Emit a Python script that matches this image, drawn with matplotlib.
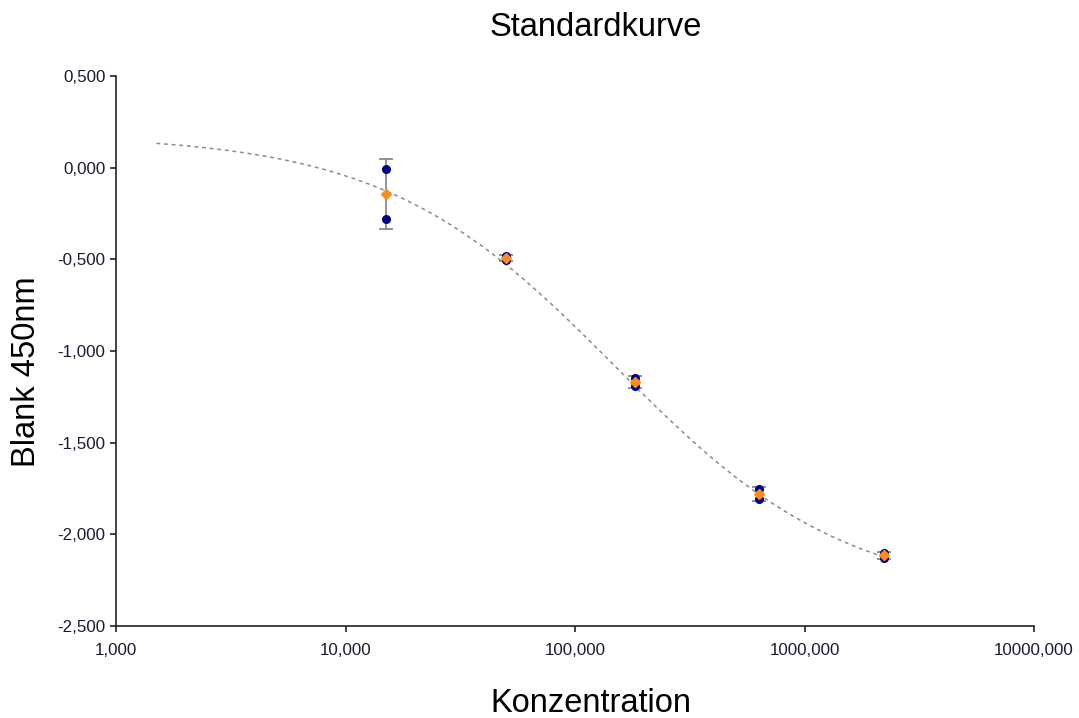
import numpy as np
import matplotlib
matplotlib.use("Agg")
import matplotlib.pyplot as plt
from matplotlib.ticker import FixedLocator, FixedFormatter, NullLocator

plt.rcParams['font.family'] = ['Liberation Sans', 'DejaVu Sans']

# Data
conc = [15, 50, 182, 635, 2220]
rep1 = [-0.007, -0.482, -1.147, -1.752, -2.103]
rep2 = [-0.280, -0.506, -1.192, -1.808, -2.127]

# 4PL fit parameters (top, bottom, EC50, hill)
fit_top = 0.18
fit_bottom = -2.35
fit_ec50 = 150.0
fit_hill = 0.86
fit_range = [1.5, 2220]

xticks = [1, 10, 100, 1000, 10000]
xticklabels = ["1,000", "10,000", "100,000", "1000,000", "10000,000"]
yticks = [0.5, 0.0, -0.5, -1.0, -1.5, -2.0, -2.5]
yticklabels = ["0,500", "0,000", "-0,500", "-1,000", "-1,500", "-2,000", "-2,500"]

W, H = 1079, 718
fig = plt.figure(figsize=(W / 100, H / 100), dpi=100)
ax = fig.add_axes([116 / W, 1 - 626 / H, (1034 - 116) / W, (626 - 76) / H])

xs = np.logspace(np.log10(fit_range[0]), np.log10(fit_range[1]), 300)
ys = fit_bottom + (fit_top - fit_bottom) / (1 + (xs / fit_ec50) ** fit_hill)
ax.plot(xs, ys, linestyle=(0, (2.5, 2.5)), color='#8c8c8c', linewidth=1.1, zorder=1)

r1 = np.array(rep1)
r2 = np.array(rep2)
mean = (r1 + r2) / 2
sd = np.std(np.vstack([r1, r2]), axis=0, ddof=1)

ax.errorbar(conc, mean, yerr=sd, fmt='none', ecolor='#808080', elinewidth=1.2,
            capsize=4.8, capthick=1.2, zorder=2)
ax.plot(conc, rep1, 'o', color='#00008B', markersize=5.5, zorder=3, linestyle='none')
ax.plot(conc, rep2, 'o', color='#00008B', markersize=5.5, zorder=3, linestyle='none')
ax.plot(conc, mean, 'D', color='#FF8C1A', markersize=5, zorder=4, linestyle='none')

ax.set_xscale('log')
ax.set_xlim(1, 10000)
ax.set_ylim(-2.5, 0.5)
ax.xaxis.set_major_locator(FixedLocator(xticks))
ax.xaxis.set_major_formatter(FixedFormatter(xticklabels))
ax.xaxis.set_minor_locator(NullLocator())
ax.yaxis.set_major_locator(FixedLocator(yticks))
ax.yaxis.set_major_formatter(FixedFormatter(yticklabels))

for s in ['top', 'right']:
    ax.spines[s].set_visible(False)
for s in ['left', 'bottom']:
    ax.spines[s].set_linewidth(1.2)
    ax.spines[s].set_color('#222222')
ax.tick_params(axis='both', direction='out', length=4.5, width=1.2, color='#222222',
               labelsize=12.2, labelcolor='#1a1a33')
ax.tick_params(axis='x', pad=8)
ax.tick_params(axis='y', pad=3)

fig.text(596 / W, 1 - 28 / H, "Standardkurve", ha='center', va='center',
         fontsize=23.5, color='black')
fig.text(591 / W, 1 - 703 / H, "Konzentration", ha='center', va='center',
         fontsize=23.5, color='black')
fig.text(27 / W, 1 - 372 / H, "Blank 450nm", ha='center', va='center', rotation=90,
         fontsize=23.5, color='black')

fig.savefig("out.png", dpi=100)
